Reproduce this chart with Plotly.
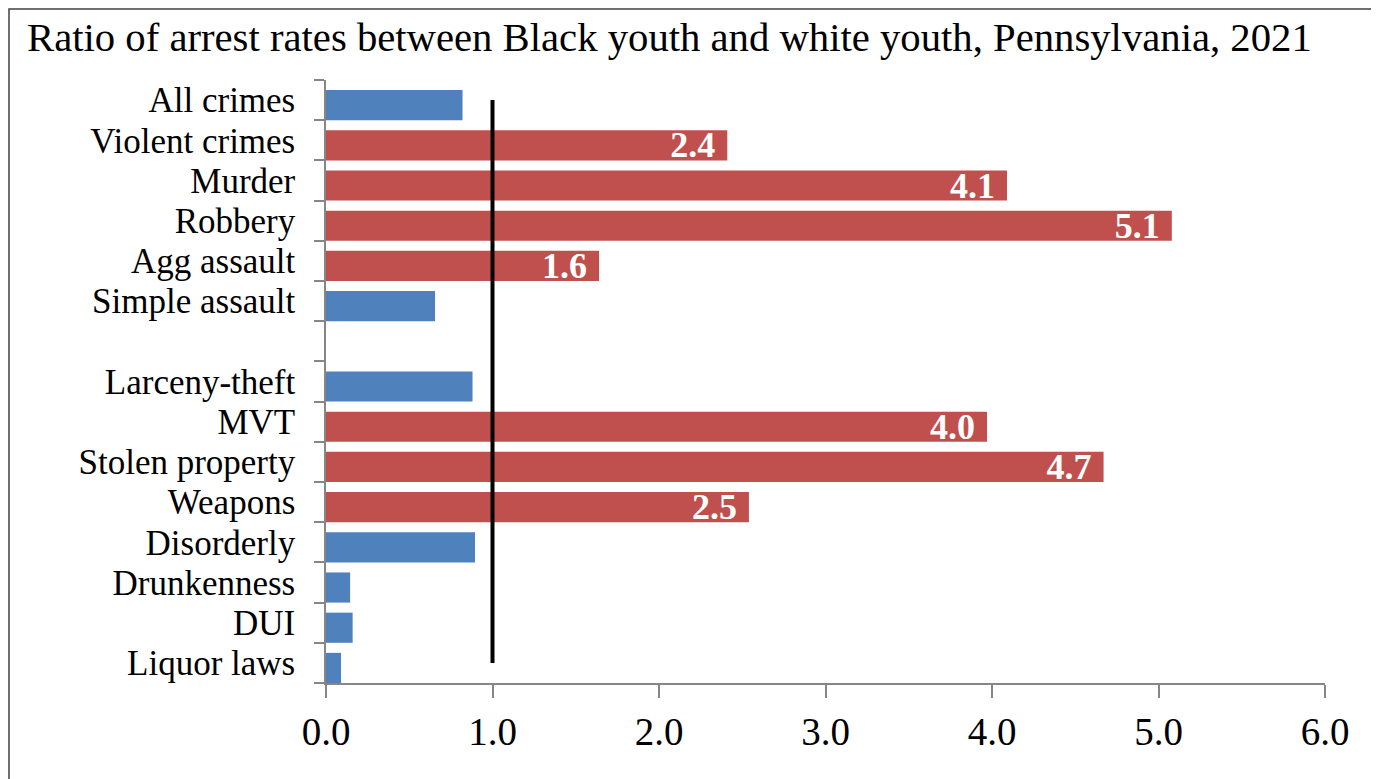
import plotly.graph_objects as go

categories = ["All crimes", "Violent crimes", "Murder", "Robbery", "Agg assault",
              "Simple assault", " ", "Larceny-theft", "MVT", "Stolen property",
              "Weapons", "Disorderly", "Drunkenness", "DUI", "Liquor laws"]

blue_cats = ["All crimes", "Simple assault", " ", "Larceny-theft", "Disorderly",
             "Drunkenness", "DUI", "Liquor laws"]
blue_vals = [0.82, 0.655, None, 0.88, 0.895, 0.145, 0.16, 0.09]

red_cats = ["Violent crimes", "Murder", "Robbery", "Agg assault", "MVT",
            "Stolen property", "Weapons"]
red_vals = [2.41, 4.09, 5.08, 1.64, 3.97, 4.67, 2.54]

parity_x = [1, 1]
parity_y = ["All crimes", "Liquor laws"]

x_ticks = [0, 1, 2, 3, 4, 5, 6]
x_tick_labels = ["0.0", "1.0", "2.0", "3.0", "4.0", "5.0", "6.0"]

title_text = "Ratio of arrest rates between Black youth and white youth, Pennsylvania, 2021"

FONT = "Liberation Serif"
OFF = 8  # page body margin offset
W, H = 1379 - OFF, 779 - OFF
L, R, T, B = 326 - OFF, 54, 80 - OFF, 96
PW, PH = W - L - R, H - T - B

fig = go.Figure()
fig.add_trace(go.Bar(
    y=blue_cats, x=blue_vals, orientation="h",
    marker=dict(color="#4F81BD", line=dict(width=0)),
    width=0.75, offset=-0.25, showlegend=False, hoverinfo="x+y",
))
fig.add_trace(go.Bar(
    y=red_cats, x=red_vals, orientation="h",
    marker=dict(color="#C0504D", line=dict(width=0)),
    width=0.75, offset=-0.25, showlegend=False,
    texttemplate="<b>%{x:.1f}</b>\u00a0", textposition="inside",
    insidetextanchor="end", textangle=0, constraintext="none",
    textfont=dict(family=FONT, size=36, color="white"),
))
fig.add_trace(go.Scatter(
    x=parity_x, y=parity_y, mode="lines",
    line=dict(color="black", width=4), showlegend=False, hoverinfo="skip",
))

# outer border (figure-pixel coords -> paper coords)
bx0, bx1, by0, by1 = 1, W + 10, 1, H + 10
fig.add_shape(type="rect", xref="paper", yref="paper",
              x0=(bx0 - L) / PW, x1=(bx1 - L) / PW,
              y0=(T + PH - by1) / PH, y1=(T + PH - by0) / PH,
              line=dict(color="#404040", width=1.5), fillcolor="rgba(0,0,0,0)",
              layer="below")

fig.update_layout(
    width=W, height=H,
    margin=dict(l=L, r=R, t=T, b=B, autoexpand=False),
    paper_bgcolor="white", plot_bgcolor="white",
    barmode="overlay",
    font=dict(family=FONT, color="black"),
    title=dict(text=title_text, xref="container", yref="container",
               x=(27 - OFF) / W, xanchor="left", y=1 - (37 - OFF) / H, yanchor="middle",
               font=dict(family=FONT, size=40.7, color="black")),
    xaxis=dict(range=[0, 6], tickmode="array", tickvals=x_ticks, ticktext=x_tick_labels,
               showgrid=False, zeroline=False, showline=True,
               linecolor="#868686", linewidth=1.5,
               ticks="outside", ticklen=13, tickcolor="#868686", tickwidth=1.5,
               tickfont=dict(family=FONT, size=39, color="black"),
               ticklabelstandoff=0),
    yaxis=dict(categoryorder="array", categoryarray=categories,
               tickmode="array", tickvals=categories, ticktext=categories,
               range=[len(categories) - 0.5, -0.5],
               showgrid=False, zeroline=False, showline=True,
               linecolor="#868686", linewidth=1.5,
               ticks="outside", ticklen=10, tickcolor="#868686", tickwidth=1.5,
               tickson="boundaries",
               tickfont=dict(family=FONT, size=35, color="black"),
               ticklabelstandoff=22),
)

fig.write_html("out.html")
